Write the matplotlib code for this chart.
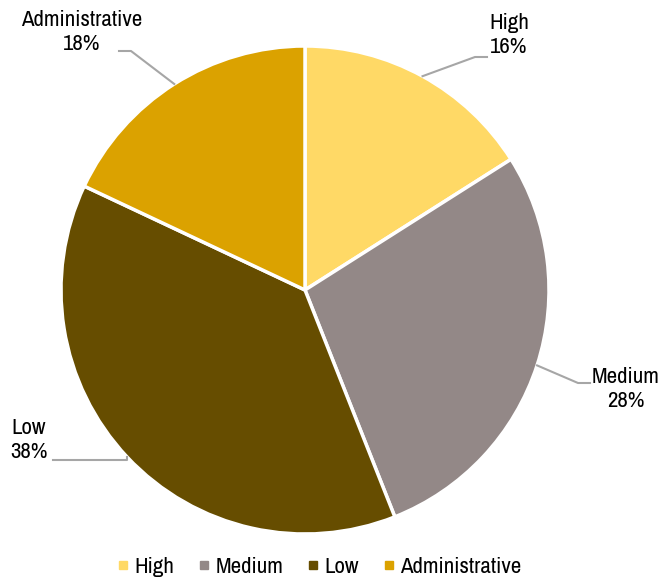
import matplotlib
matplotlib.use("Agg")
import matplotlib.pyplot as plt
import numpy as np
from matplotlib.lines import Line2D

categories = ["High", "Medium", "Low", "Administrative"]
values = [16, 28, 38, 18]
colors = ["#FFD966", "#938887", "#664D00", "#DBA200"]

plt.rcParams['font.family'] = ['Archivo Narrow', 'DejaVu Sans']

W, H = 665, 583
fig = plt.figure(figsize=(W/100, H/100), dpi=100)
cx, cy, R = 305, 290, 244
ax = fig.add_axes([(cx-R)/W, (H-cy-R)/H, 2*R/W, 2*R/H])

wedges, _ = ax.pie(values, colors=colors, startangle=90, counterclock=False, radius=1,
                   wedgeprops=dict(edgecolor='white', linewidth=2.5))
ax.set_xlim(-1, 1); ax.set_ylim(-1, 1)
ax.set_aspect('equal'); ax.axis('off')

def px(x, y):
    return ((x - cx)/R, (cy - y)/R)

# label layout (pixel positions): elbow, end of line, text center
layout = {
    "High": dict(elbow=(475, 57), end=(487, 57), text=(509, 35)),
    "Medium": dict(elbow=(578, 383), end=(590, 383), text=(626, 389)),
    "Low": dict(elbow=(90, 460), end=(53, 460), text=(29, 440)),
    "Administrative": dict(elbow=(131, 51), end=(119, 51), text=(82, 32)),
}
total = sum(values)
cum = 0
for cat, v in zip(categories, values):
    mid = cum + v/2
    cum += v
    ang = np.deg2rad(90 - 360*mid/total)
    sx, sy = np.cos(ang), np.sin(ang)
    L = layout[cat]
    ex, ey = px(*L["elbow"])
    nx, ny = px(*L["end"])
    if cat == "Low":
        ex, ey = sx, ny
    ax.plot([sx, ex, nx], [sy, ey, ny], color="#A6A6A6", lw=1.5, clip_on=False)
    tx, ty = px(*L["text"])
    ax.text(tx, ty, f"{cat}\n{v}%", ha='center', va='center', fontsize=16.5,
            color='#000000', linespacing=1.25)

handles = [Line2D([], [], marker='s', linestyle='none', markersize=6,
                  markerfacecolor=c, markeredgecolor=c) for c in colors]
fig.legend(handles, categories, loc='center', bbox_to_anchor=(320/W, 1-567/H),
           ncol=4, frameon=False, fontsize=16.5, handlelength=0.4, handletextpad=0.3,
           columnspacing=1.1)

fig.savefig("out.png", dpi=100)
